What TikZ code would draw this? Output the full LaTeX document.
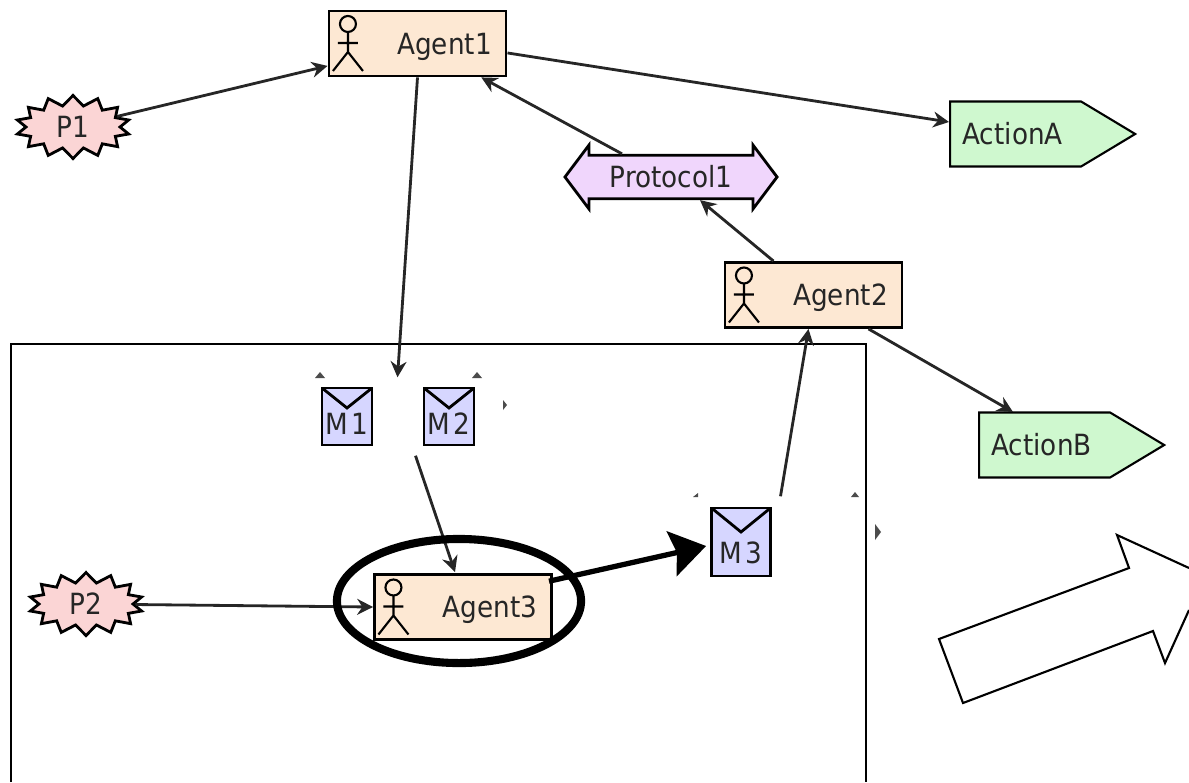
\documentclass[tikz,border=0pt]{standalone}
\usepackage{fontspec}
\setmainfont{DejaVu Sans Condensed}
\usetikzlibrary{shapes.symbols,shapes.arrows,shapes.geometric,arrows.meta}
\definecolor{agentfill}{HTML}{FDE8D3}
\definecolor{eventfill}{HTML}{FBD5D5}
\definecolor{actionfill}{HTML}{CFF8CF}
\definecolor{protofill}{HTML}{F0D6FC}
\definecolor{msgfill}{HTML}{D6D6FF}
\tikzset{
  x=0.01cm, y=-0.01cm,
  lbl/.style={font=\fontsize{8.3}{10}\selectfont, text=black!85},
  agent/.style={rectangle, draw, thick, fill=agentfill, lbl, minimum width=1.77cm, minimum height=0.65cm, inner sep=0pt, text depth=0pt, path picture={
    \coordinate (bb) at (path picture bounding box.north west);
    \draw[semithick] ([shift={(19,13)}]bb) circle (8);
    \draw[semithick] ([shift={(19,21)}]bb) -- ++(0,20) -- ++(-15,19) ([shift={(19,41)}]bb) -- ++(15,19) ([shift={(9,32)}]bb) -- ++(20,0);
  }},
  event/.style={starburst, starburst points=14, starburst point height=0.1cm, random starburst=0, draw, thick, fill=eventfill, lbl, minimum width=1.14cm, minimum height=0.63cm, inner sep=0pt},
  action/.style={signal, signal to=east, signal pointer angle=62, draw, semithick, fill=actionfill, lbl, minimum width=1.85cm, minimum height=0.65cm, inner sep=0pt, anchor=west},
  proto/.style={double arrow, double arrow head extend=0.06cm, double arrow tip angle=106, draw, thick, fill=protofill, lbl, minimum width=0.64cm, minimum height=2.12cm, inner sep=0pt},
  msg/.style={rectangle, draw, thick, fill=msgfill, inner sep=0pt, path picture={
    \draw[thick] (path picture bounding box.north west) -- ([shift={(0,#1)}]path picture bounding box.north) -- (path picture bounding box.north east);
  }},
  patch/.style={rectangle, fill=white, inner sep=0pt},
  link/.style={-{Stealth[length=4.5pt,width=4.5pt]}, line width=0.8pt, black!85},
  bold link/.style={-{Stealth[length=10pt,width=13pt,inset=1.5pt]}, line width=1.5pt, black},
  stub/.style={fill=black!70},
}
\begin{document}
\begin{tikzpicture}
    \useasboundingbox (0,0) rectangle (1189,782);

    \draw[thick] (11,782) |- (866,344) -- (866,782);
    \draw[semithick] (1189,568) -- (1117,535) -- (1129,568) -- (939,639) -- (963,703) -- (1153,631) -- (1165,663) -- (1189,610);

    \node[agent] (agent1) at (417.5,43.5) {\hspace*{0.54cm}Agent1};
    \node[agent] (agent2) at (813.5,295) {\hspace*{0.54cm}Agent2};
    \node[agent] (agent3) at (463,607) {\hspace*{0.54cm}Agent3};

    \node[event] (p1) at (73,127) {P1};
    \node[event] (p2) at (86,604) {P2};

    \node[action] (actiona) at (949,134) {\hspace*{-0.06cm}ActionA};
    \node[action] (actionb) at (978,445) {\hspace*{-0.06cm}ActionB};
    \node[proto] (protocol1) at (671,177) {Protocol1};

    \node[patch, minimum width=2.11cm, minimum height=0.77cm] (patcha) at (397.5,416.5) {};
    \node[patch, minimum width=2.01cm, minimum height=0.71cm] (patchb) at (764.5,532.5) {};

    \node[msg=20, minimum width=0.5cm, minimum height=0.57cm] (m1) at (347,416.5) {};
    \node[msg=20, minimum width=0.5cm, minimum height=0.57cm] (m2) at (449,416.5) {};
    \node[msg=24, minimum width=0.59cm, minimum height=0.68cm] (m3) at (741,542) {};
    \node[lbl] (m1text) at (347,424) {M\kern1pt 1};
    \node[lbl] (m2text) at (449,424) {M\kern1pt 2};
    \node[lbl] (m3text) at (741,553) {M\kern1pt 3};

    \fill[stub] (320,372) -- (325,378) -- (315,378) -- cycle;
    \fill[stub] (477,372) -- (482,378) -- (472,378) -- cycle;
    \fill[stub] (503,400) -- (507,405) -- (503,410) -- cycle;
    \fill[stub] (693,497) -- (698,493) -- (698,497) -- cycle;
    \fill[stub] (851,497) -- (855,492) -- (859,497) -- cycle;
    \fill[stub] (875,524) -- (881,532) -- (875,540) -- cycle;

    \draw[link] (p1) to (agent1.194);
    \draw[link] (agent1.south) to (patcha.north);
    \draw[link] (agent1.-6) to ([shift={(0,-12)}]actiona.west);
    \draw[link] ([shift={(-49,0)}]protocol1.north) to (agent1.-28.5);
    \draw[link] ([shift={(-40,0)}]agent2.north) to ([shift={(29,0)}]protocol1.south);
    \draw[link] ([shift={(55,0)}]agent2.south) to ([shift={(35,-33)}]actionb.west);
    \draw[link] (p2) to (agent3.west);
    \draw[link] ([shift={(18,0)}]patcha.south) to ([shift={(-8,-1)}]agent3.north);
    \draw[link] ([shift={(16,0)}]patchb.north) to ([shift={(-5,0)}]agent2.south);

    \node[draw=black, line width=2.3pt, ellipse, minimum width=2.44cm, minimum height=1.24cm, inner sep=0pt] (focus) at (459,601) {};
    \draw[bold link] ([shift={(-4,0)}]agent3.16) to ([shift={(-4,4)}]m3.west);
\end{tikzpicture}
\end{document}
